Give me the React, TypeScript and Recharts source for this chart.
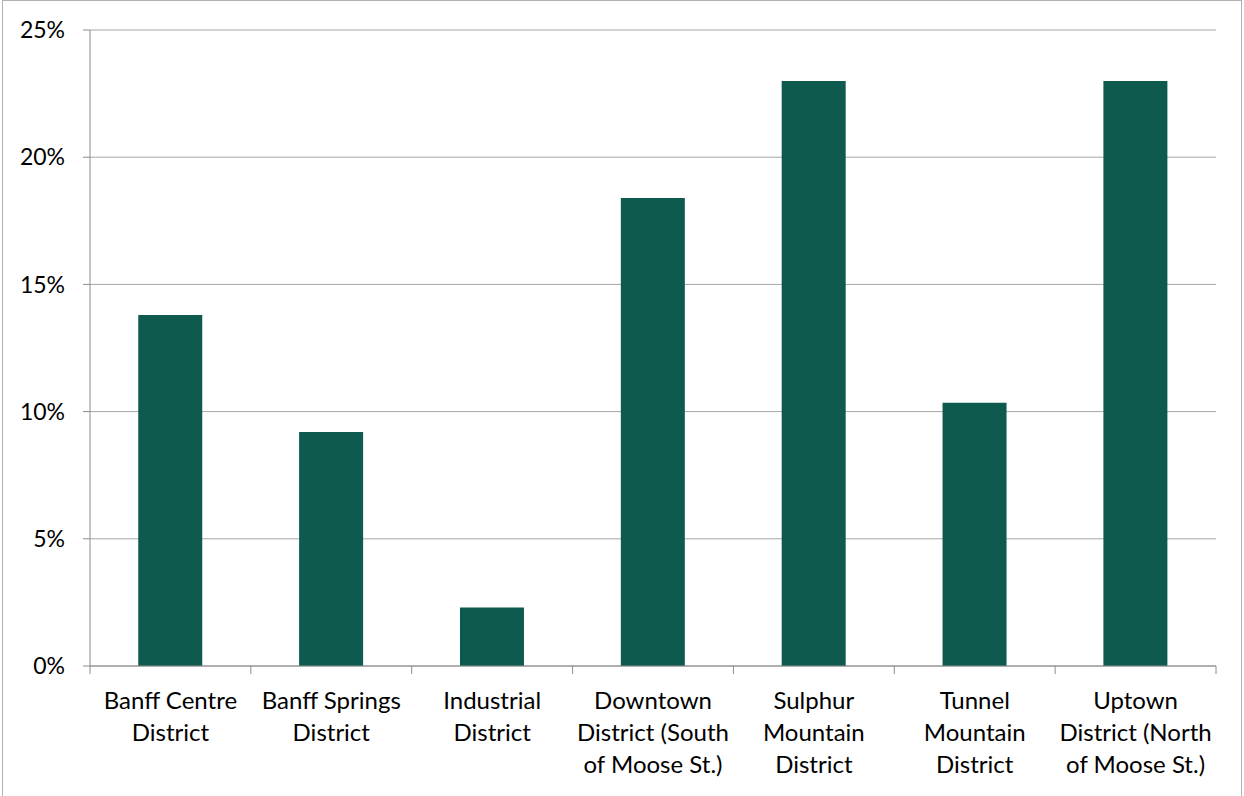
import React from "react";
import { ComposedChart, Bar, XAxis, YAxis, CartesianGrid } from "recharts";

// District names (line breaks mark where each axis label wraps)
const districts = [
  "Banff Centre\nDistrict",
  "Banff Springs\nDistrict",
  "Industrial\nDistrict",
  "Downtown\nDistrict (South\nof Moose St.)",
  "Sulphur\nMountain\nDistrict",
  "Tunnel\nMountain\nDistrict",
  "Uptown\nDistrict (North\nof Moose St.)",
];

// Share of respondents per district, in percent
const shares = [13.8, 9.2, 2.3, 18.4, 23.0, 10.35, 23.0];

const percentTicks = [0, 5, 10, 15, 20, 25];

const data = districts.map((name, i) => ({ name, share: shares[i] }));

const WIDTH = 1244;
const HEIGHT = 796;
const Y_AXIS_WIDTH = 90;
const RIGHT_MARGIN = 28;
const PLOT_WIDTH = WIDTH - Y_AXIS_WIDTH - RIGHT_MARGIN;
const HALF_BAND = PLOT_WIDTH / districts.length / 2;
// Recharts places category ticks below the axis by tickSize + tickMargin
const TICK_OFFSET = 8;

const FONT = "Lato, 'Open Sans', sans-serif";
const AXIS_COLOR = "#8c8c8c";
const GRID_COLOR = "#a6a6a6";
const BAR_COLOR = "#0e5a4e";

// Category tick: boundary tick marks like a spreadsheet chart, plus wrapped label
const CategoryTick = (props: any) => {
  const { x, y, payload, index } = props;
  const axisY = y - TICK_OFFSET;
  const lines: string[] = String(payload.value).split("\n");
  const left = x - HALF_BAND;
  const right = x + HALF_BAND;
  return (
    <g>
      <line x1={left} y1={axisY} x2={left} y2={axisY + 8} stroke={AXIS_COLOR} strokeWidth={1} />
      {index === districts.length - 1 && (
        <line x1={right} y1={axisY} x2={right} y2={axisY + 8} stroke={AXIS_COLOR} strokeWidth={1} />
      )}
      <text
        x={x}
        y={axisY + 43}
        textAnchor="middle"
        fill="#000"
        style={{ fontFamily: FONT, fontSize: 24 }}
      >
        {lines.map((ln, i) => (
          <tspan key={i} x={x} dy={i === 0 ? 0 : 32}>
            {ln}
          </tspan>
        ))}
      </text>
    </g>
  );
};

export default function App() {
  return (
    <div style={{ position: "absolute", left: 0, top: 0, width: WIDTH, height: HEIGHT, background: "#fff" }}>
      <ComposedChart
        width={WIDTH}
        height={HEIGHT}
        data={data}
        margin={{ top: 30, right: RIGHT_MARGIN, left: 0, bottom: 0 }}
        barCategoryGap="30%"
      >
        <CartesianGrid vertical={false} stroke={GRID_COLOR} strokeWidth={1} />
        <XAxis
          dataKey="name"
          height={130}
          interval={0}
          tickLine={false}
          axisLine={{ stroke: AXIS_COLOR, strokeWidth: 1 }}
          tick={<CategoryTick />}
        />
        <YAxis
          width={Y_AXIS_WIDTH}
          domain={[0, 25]}
          ticks={percentTicks}
          tickFormatter={(v: number) => `${v}%`}
          tickSize={7}
          tickMargin={18}
          tickLine={{ stroke: AXIS_COLOR }}
          axisLine={{ stroke: AXIS_COLOR, strokeWidth: 1 }}
          tick={{ fill: "#000", fontSize: 23, fontFamily: FONT }}
          interval={0}
        />
        <Bar dataKey="share" fill={BAR_COLOR} isAnimationActive={false} />
      </ComposedChart>
      <div
        style={{
          position: "absolute",
          left: 2,
          top: 0,
          width: 1238,
          height: 810,
          border: "1px solid #b0b0b0",
          pointerEvents: "none",
        }}
      />
    </div>
  );
}
